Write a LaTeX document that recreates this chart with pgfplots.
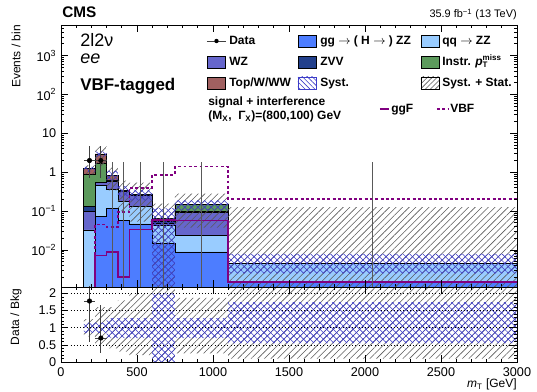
\documentclass[border=0pt]{standalone}
\usepackage{fontspec}
\setmainfont{Liberation Sans}
\usepackage{pgfplots}
\pgfplotsset{compat=1.18}
\usetikzlibrary{patterns.meta}
\definecolor{cgg}{RGB}{77,125,255}
\definecolor{cqq}{RGB}{153,204,255}
\definecolor{cwz}{RGB}{102,102,204}
\definecolor{czvv}{RGB}{34,64,140}
\definecolor{cinstr}{RGB}{92,154,92}
\definecolor{ctop}{RGB}{160,96,96}
\definecolor{csig}{RGB}{128,0,128}
\definecolor{csyst}{RGB}{60,60,200}
\definecolor{chatch}{RGB}{90,90,90}
\pgfplotsset{
  cmsaxis/.style={
    scale only axis, width=342pt, xmin=0, xmax=3000,
    xtick={0,500,...,3000}, minor x tick num=4,
    tick align=inside, major tick length=5pt, minor tick length=2.5pt,
    axis line style={line width=0.7pt},
    every tick/.style={black, line width=0.5pt},
    tick label style={font=\fontsize{9.5}{10}\selectfont},
    axis on top, clip=true},
  stk/.style={const plot, draw=black, line width=0.5pt, fill=#1},
  grey band/.style={const plot, draw=none, pattern={Lines[angle=45,distance=3.5pt,line width=0.45pt]}, pattern color=chatch},
  blue band/.style={const plot, draw=none, pattern={Lines[angle=#1,distance=3.5pt,line width=0.45pt]}, pattern color=csyst},
}
\begin{document}
\begin{tikzpicture}
\useasboundingbox (-45.75pt,-22.5pt) rectangle (357pt,271.5pt);
% ---------------- main panel ----------------
\begin{axis}[cmsaxis, at={(0,56.25pt)}, anchor=south west, height=196.5pt,
  ymode=log, ymin=1.12e-3, ymax=6.1e3, xticklabels={},
  ytick={1e-2,1e-1,1,10,100,1000},
  yticklabels={10\textsuperscript{−2},10\textsuperscript{−1},1,10,10\textsuperscript{2},10\textsuperscript{3}},
  minor ytick={2e-3,3e-3,4e-3,5e-3,6e-3,7e-3,8e-3,9e-3,
    2e-2,3e-2,4e-2,5e-2,6e-2,7e-2,8e-2,9e-2,
    0.2,0.3,0.4,0.5,0.6,0.7,0.8,0.9,2,3,4,5,6,7,8,9,
    20,30,40,50,60,70,80,90,200,300,400,500,600,700,800,900,
    2000,3000,4000,5000,6000}]
% stack (cumulative)
\addplot[stk=ctop] coordinates {(150,1e-5)(150,1.25)(225,2.95)(300,0.84)(375,0.34)(450,0.27)(600,0.066)(750,0.15)(1100,0.0045)(3000,0.0045)(3000,1e-5)} -- cycle;
\addplot[stk=cinstr] coordinates {(150,1e-5)(150,0.90)(225,1.65)(300,0.63)(375,0.335)(450,0.265)(600,0.063)(750,0.15)(1100,0.0045)(3000,0.0045)(3000,1e-5)} -- cycle;
\addplot[stk=czvv] coordinates {(150,1e-5)(150,0.135)(225,0.56)(300,0.60)(375,0.33)(450,0.26)(600,0.055)(750,0.10)(1100,0.0045)(3000,0.0045)(3000,1e-5)} -- cycle;
\addplot[stk=cwz] coordinates {(150,1e-5)(150,0.10)(225,0.55)(300,0.58)(375,0.32)(450,0.25)(600,0.048)(750,0.094)(1100,0.0045)(3000,0.0045)(3000,1e-5)} -- cycle;
\addplot[stk=cqq] coordinates {(150,1e-5)(150,0.033)(225,0.45)(300,0.36)(375,0.18)(450,0.13)(600,0.043)(750,0.024)(1100,0.0045)(3000,0.0045)(3000,1e-5)} -- cycle;
\addplot[stk=cgg] coordinates {(150,1e-5)(150,1e-5)(225,0.073)(300,0.12)(375,0.058)(450,0.047)(600,0.0145)(750,0.0089)(1100,0.0015)(3000,0.0015)(3000,1e-5)} -- cycle;
% syst + stat band
\addplot[grey band] coordinates {(150,1.5)(225,4.7)(300,1.34)(375,0.61)(450,0.54)(600,0.157)(750,0.28)(1100,0.126)(3000,0.126)(3000,1e-5)(1100,0.0375)(750,1e-5)(600,0.054)(450,0.1)(375,0.34)(300,1.48)(225,0.9)(150,0.9)} -- cycle;
% syst band
\addplot[blue band=-45] coordinates {(150,1.38)(225,3.4)(300,1.08)(375,0.44)(450,0.35)(600,0.12)(750,0.19)(1100,0.0079)(3000,0.0079)(3000,0.0025)(1100,0.105)(750,1e-5)(600,0.19)(450,0.24)(375,0.59)(300,2.5)(225,1.02)(150,1.02)} -- cycle;
\addplot[blue band=45] coordinates {(150,1.38)(225,3.4)(300,1.08)(375,0.44)(450,0.35)(600,0.12)(750,0.19)(1100,0.0079)(3000,0.0079)(3000,0.0025)(1100,0.105)(750,1e-5)(600,0.19)(450,0.24)(375,0.59)(300,2.5)(225,1.02)(150,1.02)} -- cycle;
% signals
\addplot[const plot, csig, line width=1.2pt] coordinates {(225,1e-5)(225,0.0073)(300,0.0089)(375,0.002)(450,0.034)(600,0.06)(750,0.058)(1100,0.0015)(3000,0.0015)};
\addplot[const plot, csig, line width=1.2pt, dash pattern=on 2.2pt off 1.8pt] coordinates {(225,1e-5)(225,0.045)(300,0.039)(375,0.094)(450,0.4)(600,0.86)(750,1.4)(1100,0.208)(3000,0.208)};
% data, empty bins
\addplot[black!65, line width=0.6pt] coordinates {(337.5,1e-5)(337.5,1.84)};
\addplot[black!65, line width=0.6pt] coordinates {(412.5,1e-5)(412.5,1.84)};
\addplot[black!65, line width=0.6pt] coordinates {(525,1e-5)(525,1.84)};
\addplot[black!65, line width=0.6pt] coordinates {(675,1e-5)(675,1.84)};
\addplot[black!65, line width=0.6pt] coordinates {(925,1e-5)(925,1.84)};
\addplot[black!65, line width=0.6pt] coordinates {(2050,1e-5)(2050,1.84)};
\addplot[only marks, mark=*, mark size=1.7pt, black,
  error bars/.cd, x dir=both, x explicit, y dir=both, y explicit, error mark=none,
  error bar style={line width=0.6pt, black!75}]
  coordinates {(187.5,2) += (37.5,2.64) -= (37.5,1.29) (262.5,2) += (37.5,2.64) -= (37.5,1.29)};
\end{axis}
% ---------------- ratio panel ----------------
\begin{axis}[cmsaxis, at={(0,0)}, anchor=south west, height=56.25pt,
  ymin=0, ymax=2.19,
  xticklabels={0,500,1000,1500,2000,2500,3000},
  xticklabel style={yshift=-1pt},
  ytick={0,0.5,1,1.5,2}, yticklabels={0,0.5,1,1.5,2}, minor y tick num=4,
  ymajorgrids, grid style={dotted, black, line width=0.5pt}]
\addplot[grey band] coordinates {(150,1.25)(225,1.6)(300,1.6)(375,1.8)(450,2.0)(600,2.5)(750,1.87)(1100,2.5)(3000,2.5)(3000,0.1)(1100,0.25)(750,-0.1)(600,0.2)(450,0.3)(375,0.4)(300,0.5)(225,0.75)(150,0.75)} -- cycle;
\addplot[blue band=-45] coordinates {(150,1.15)(225,1.15)(300,1.28)(375,1.28)(450,1.28)(600,2.0)(750,1.28)(1100,1.75)(3000,1.75)(3000,0.55)(1100,0.7)(750,-0.1)(600,0.7)(450,0.7)(375,0.7)(300,0.85)(225,0.85)(150,0.85)} -- cycle;
\addplot[blue band=45] coordinates {(150,1.15)(225,1.15)(300,1.28)(375,1.28)(450,1.28)(600,2.0)(750,1.28)(1100,1.75)(3000,1.75)(3000,0.55)(1100,0.7)(750,-0.1)(600,0.7)(450,0.7)(375,0.7)(300,0.85)(225,0.85)(150,0.85)} -- cycle;
\addplot[only marks, mark=*, mark size=1.7pt, black,
  error bars/.cd, x dir=both, x explicit, y dir=both, y explicit, error mark=none,
  error bar style={line width=0.6pt, black!75}]
  coordinates {(187.5,1.78) += (37.5,1.5) -= (37.5,1.2) (262.5,0.7) += (37.5,0.96) -= (37.5,0.45)};
\end{axis}
% ---------------- texts and legend (pixel coordinates) ----------------
\begin{scope}[x=0.75pt, y=-0.75pt, shift={(-45.75pt,271.5pt)}, every node/.style={inner sep=0pt}]
\node[anchor=base west, font=\bfseries\fontsize{11.5}{12}\selectfont] at (62,18) {CMS};
\node[anchor=base east, font=\fontsize{8.2}{9}\selectfont] at (517,18) {35.9 fb\textsuperscript{−1} (13 TeV)};
\node[rotate=90, anchor=east, font=\fontsize{9}{10}\selectfont] at (16,25) {Events / bin};
\node[rotate=90, anchor=east, font=\fontsize{9}{10}\selectfont] at (16,289) {Data / Bkg};
\node[anchor=base east, font=\fontsize{9}{10}\selectfont] at (517,388) {\textit{m}\textsubscript{T} [GeV]};
\node[anchor=base west, font=\fontsize{13.5}{14}\selectfont] at (80,47) {2l2ν};
\node[anchor=base west, font=\itshape\fontsize{13.5}{14}\selectfont] at (80,64) {ee};
\node[anchor=base west, font=\bfseries\fontsize{12.7}{14}\selectfont] at (80,91) {VBF-tagged};
% legend
\begin{scope}[every node/.append style={anchor=base west, font=\bfseries\fontsize{9}{10}\selectfont}]
\draw[black!75, line width=0.6pt] (207,41) -- (226,41);
\fill[black] (216.5,41) circle (2.2);
\node at (229,45) {Data};
\draw[black, line width=0.5pt, fill=cgg] (298,35) rectangle (316,47);
\node at (320,45) {gg $\rightarrow$ ( H $\rightarrow$ ) ZZ};
\draw[black, line width=0.5pt, fill=cqq] (421,35) rectangle (439,47);
\node at (442,45) {qq $\rightarrow$ ZZ};
\draw[black, line width=0.5pt, fill=cwz] (207,56) rectangle (225,68);
\node at (229,66) {WZ};
\draw[black, line width=0.5pt, fill=czvv] (298,56) rectangle (316,68);
\node at (320,66) {ZVV};
\draw[black, line width=0.5pt, fill=cinstr] (421,56) rectangle (439,68);
\node at (442,66) {Instr. \textit{p}\makebox[0pt][l]{\textsubscript{T}}\textsuperscript{miss}};
\draw[black, line width=0.5pt, fill=ctop] (207,77) rectangle (225,89);
\node at (229,87) {Top/W/WW};
\draw[csyst, line width=0.5pt, pattern={Lines[angle=-45,distance=2.6pt,line width=0.45pt]}, pattern color=csyst] (298,77) rectangle (316,89);
\node at (320,87) {Syst.};
\draw[black, line width=0.5pt, pattern={Lines[angle=45,distance=2.6pt,line width=0.45pt]}, pattern color=chatch] (421,77) rectangle (439,89);
\node at (442,87) {Syst. + Stat.};
\node at (208,106) {signal + interference};
\node at (208,120) {(M\textsubscript{X},\ \ Γ\textsubscript{X})=(800,100) GeV};
\draw[csig, line width=1.2pt] (380,109) -- (389,109);
\node at (391,113) {ggF};
\draw[csig, line width=1.2pt, dash pattern=on 2.2pt off 1.8pt] (437,109) -- (448,109);
\node at (450,113) {VBF};
\end{scope}
\end{scope}
\end{tikzpicture}
\end{document}
